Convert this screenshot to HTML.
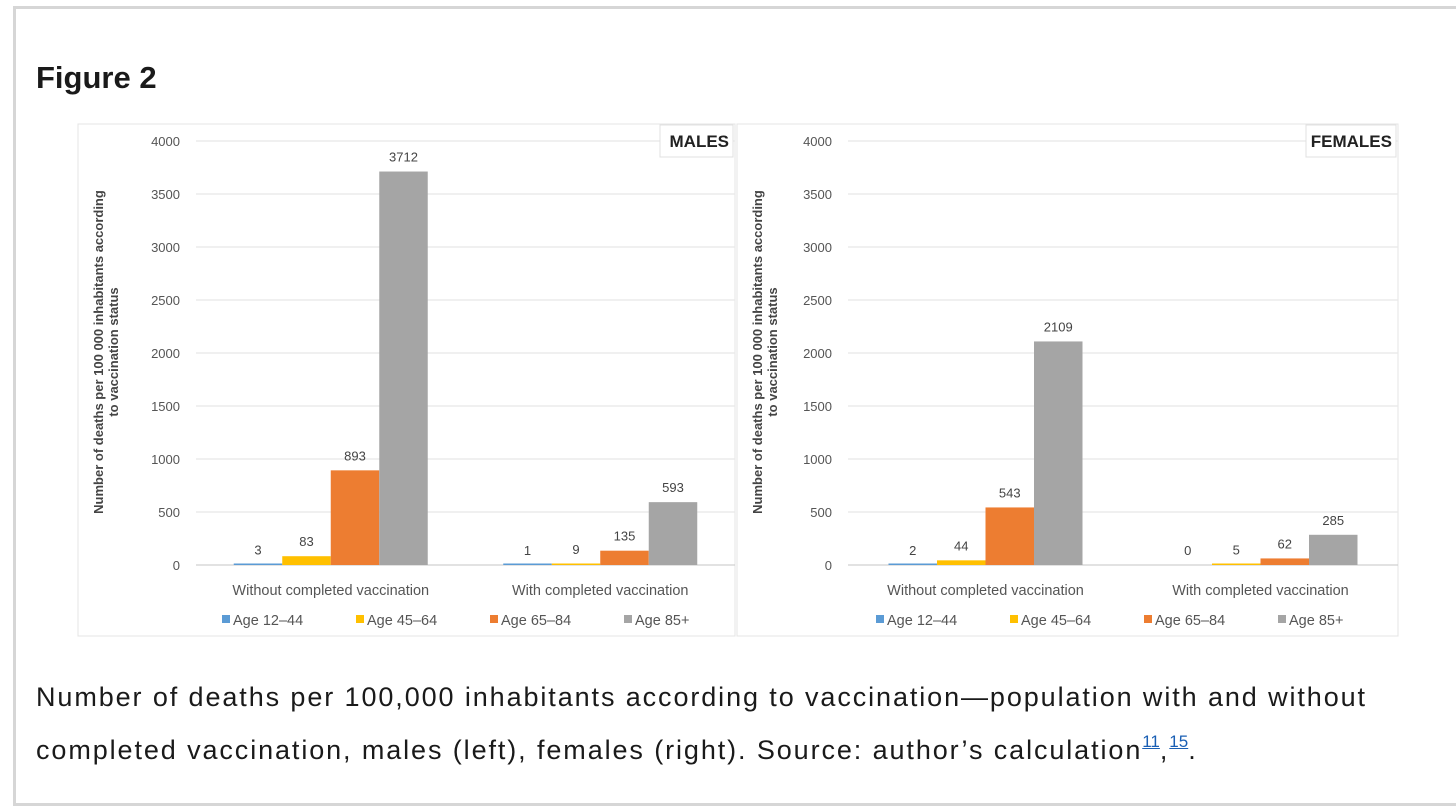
<!DOCTYPE html>
<html><head><meta charset="utf-8">
<style>
body{margin:0;background:#fff;width:1456px;height:784px;overflow:hidden;font-family:"Liberation Sans",sans-serif;}
#frame{position:absolute;left:13px;top:6px;width:1450px;height:800px;border:3px solid #d6d6d6;box-sizing:border-box;}
#title{position:absolute;left:36px;top:60px;font-size:31px;font-weight:bold;color:#1a1a1a;}
#caption{position:absolute;left:36px;top:671px;font-size:27px;letter-spacing:1.9px;color:#1a1a1a;line-height:53px;width:1355px;}
#caption sup{font-size:17px;letter-spacing:0;color:#1a5fb4;text-decoration:underline;line-height:0;vertical-align:0;position:relative;top:-12px;}
svg{position:absolute;left:0;top:0;}
</style></head><body>
<div id="frame"></div>
<div id="title">Figure 2</div>
<svg id="chart" width="1456" height="784"></svg>
<div id="caption">Number of deaths per 100,000 inhabitants according to vaccination—population with and without completed vaccination, males (left), females (right). Source: author’s calculation<sup>11</sup>,<sup>15</sup>.</div>
<script>
const categories = ["Without completed vaccination", "With completed vaccination"];
const seriesNames = ["Age 12–44", "Age 45–64", "Age 65–84", "Age 85+"];
const seriesColors = ["#5b9bd5", "#ffc000", "#ed7d31", "#a5a5a5"];
const yTicks = [0, 500, 1000, 1500, 2000, 2500, 3000, 3500, 4000];
const malesWithout = [3, 83, 893, 3712];
const malesWith = [1, 9, 135, 593];
const femalesWithout = [2, 44, 543, 2109];
const femalesWith = [0, 5, 62, 285];

const NS = "http://www.w3.org/2000/svg";
const svg = document.getElementById("chart");
function mk(tag, attrs, parent, text) {
  const e = document.createElementNS(NS, tag);
  for (const k in attrs) e.setAttribute(k, attrs[k]);
  if (text !== undefined) e.textContent = text;
  (parent || svg).appendChild(e);
  return e;
}
function drawChart(cfg, data, label) {
  const g = mk("g", {});
  
  
  const box = mk("rect", {x: cfg.bx, y: 124, width: cfg.bw, height: 512, fill: "#fff", stroke: "#e4e4e4"}, g);
  
  
  const y0 = 565, y1 = 141, yMax = 4000;
  const ys = v => y0 - (v / yMax) * (y0 - y1);
  const catW = (cfg.px1 - cfg.px0) / categories.length;
  const barW = 48.5;
  yTicks.forEach(t => {
    const ln = mk("line", {x1: cfg.px0, x2: cfg.px1, y1: ys(t), y2: ys(t), stroke: t === 0 ? "#d0d0d0" : "#e8e8e8", "stroke-width": 1.3}, g);
    
    
    const tx = mk("text", {x: cfg.px0 - 16, y: ys(t) + 5, "text-anchor": "end", "font-size": 13, fill: "#555"}, g, String(t));
    
    
  });
  const yt = mk("text", {transform: `translate(${cfg.bx + 25},352) rotate(-90)`, "text-anchor": "middle", "font-size": 13, "font-weight": "bold", fill: "#444"}, g);
  
  
  mk("tspan", {x: 0, dy: 0}, yt, "Number of deaths per 100 000 inhabitants according");
  mk("tspan", {x: 0, dy: 15}, yt, "to vaccination status");
  data.forEach((vals, ci) => {
    const cx = cfg.px0 + catW * (ci + 0.5);
    const start = cx - barW * vals.length / 2;
    vals.forEach((v, si) => {
      const x = start + si * barW;
      const h = Math.max(y0 - ys(v), v > 0 ? 1.5 : 0);
      const r = mk("rect", {x: x, y: y0 - h, width: barW, height: h, fill: seriesColors[si]}, g);
      
      
      const lt = mk("text", {x: x + barW / 2, y: ys(v) - 10, "text-anchor": "middle", "font-size": 13, fill: "#444"}, g, String(v));
      
      
    });
    const cl = mk("text", {x: cx, y: 595, "text-anchor": "middle", "font-size": 14.5, fill: "#555"}, g, categories[ci]);
    
    
  });
  seriesNames.forEach((n, si) => {
    const lx = cfg.lx + si * cfg.lstep;
    const le = mk("g", {}, g);
    
    
    mk("rect", {x: lx, y: 615, width: 8, height: 8, fill: seriesColors[si]}, le);
    mk("text", {x: lx + 11, y: 625, "font-size": 14.5, fill: "#555"}, le, n);
  });
  const tb = mk("g", {}, g);
  
  
  mk("rect", {x: cfg.bx + cfg.bw - cfg.tw - 2, y: 125, width: cfg.tw, height: 32, fill: "#fff", stroke: "#e0e0e0"}, tb);
  mk("text", {x: cfg.bx + cfg.bw - 6, y: 147, "text-anchor": "end", "font-size": 17, "font-weight": "bold", fill: "#222"}, tb, label);
}
drawChart({bx: 78, bw: 657, px0: 196, px1: 735, lx: 222, lstep: 134, tw: 73}, [malesWithout, malesWith], "MALES");
drawChart({bx: 737, bw: 661, px0: 848, px1: 1398, lx: 876, lstep: 134, tw: 90}, [femalesWithout, femalesWith], "FEMALES");
</script>
</body></html>
